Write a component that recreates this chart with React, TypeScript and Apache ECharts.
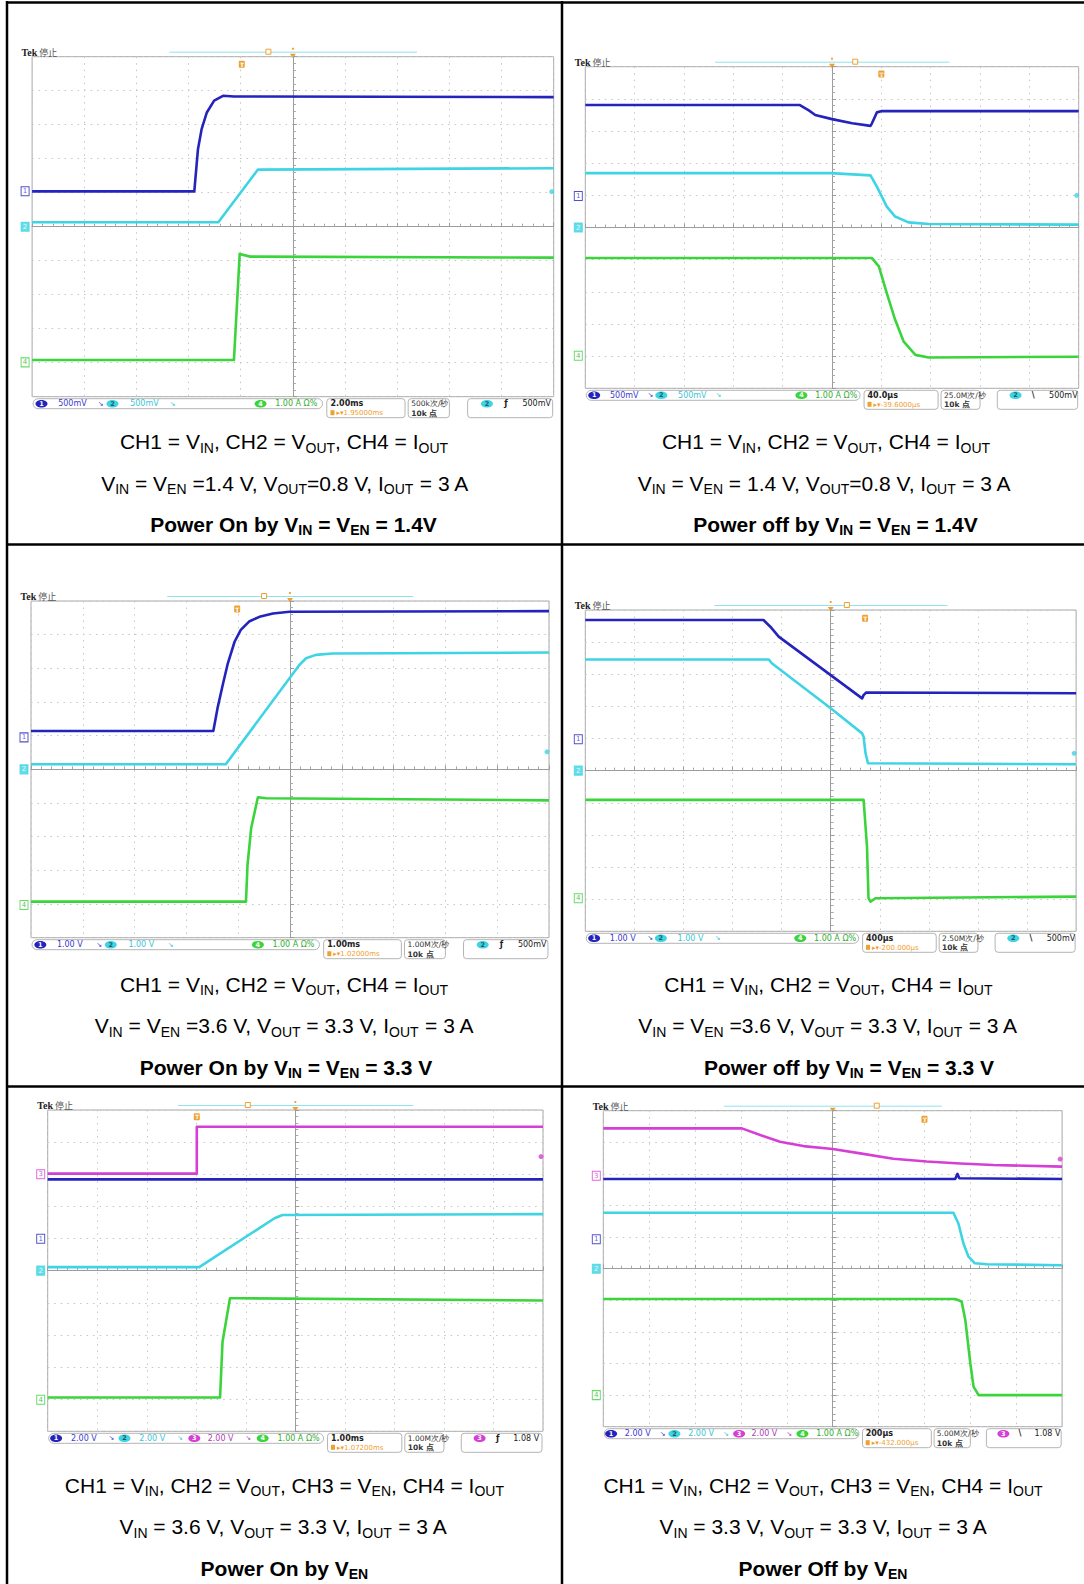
import React, { useEffect, useRef } from "react";
import * as echarts from "echarts";

// ---------- colours ----------
const CH_COLORS: Record<number, string> = { 1: "#2424bd", 2: "#3fd4e4", 3: "#d63fd6", 4: "#3cd43c" };
const CH_TEXT: Record<number, string> = { 1: "#3a3ad2", 2: "#3cc4d6", 3: "#b03cb8", 4: "#2fae2f" };
const ORANGE = "#f0a030";

// ---------- traces (graticule divisions: x -5..5, y -5..5) ----------
// Panel 1: Power On by VIN = VEN = 1.4V
const p1Ch1 = [[-5, 1.04], [-1.89, 1.04], [-1.87, 1.4], [-1.82, 2.28], [-1.75, 2.87], [-1.65, 3.36], [-1.51, 3.71], [-1.34, 3.85], [-1.13, 3.83], [5, 3.81]];
const p1Ch2 = [[-5, 0.13], [-1.43, 0.13], [-0.67, 1.68], [5, 1.72]];
const p1Ch4 = [[-5, -3.92], [-1.13, -3.92], [-1.02, -0.8], [-0.82, -0.88], [5, -0.91]];
// Panel 2: Power off by VIN = VEN = 1.4V
const p2Ch1 = [[-5, 3.81], [-0.66, 3.81], [-0.47, 3.64], [-0.34, 3.5], [0, 3.37], [0.41, 3.24], [0.78, 3.16], [0.81, 3.24], [0.91, 3.58], [1.01, 3.62], [5, 3.62]];
const p2Ch2 = [[-5, 1.69], [-0.03, 1.69], [0.78, 1.62], [0.91, 1.27], [1.11, 0.65], [1.28, 0.34], [1.55, 0.16], [1.96, 0.11], [5, 0.09]];
const p2Ch4 = [[-5, -0.95], [0.81, -0.95], [0.95, -1.21], [1.11, -2.04], [1.28, -2.87], [1.45, -3.54], [1.69, -3.96], [1.96, -4.04], [5, -4.02]];
// Panel 3: Power On by VIN = VEN = 3.3 V
const p3Ch1 = [[-5, 1.14], [-1.48, 1.14], [-1.4, 1.81], [-1.3, 2.5], [-1.2, 3.15], [-1.07, 3.79], [-0.95, 4.14], [-0.79, 4.39], [-0.59, 4.53], [-0.33, 4.63], [-0.01, 4.68], [5, 4.7]];
const p3Ch2 = [[-5, 0.15], [-1.24, 0.15], [0.18, 3.1], [0.31, 3.3], [0.5, 3.4], [0.82, 3.44], [5, 3.47]];
const p3Ch4 = [[-5, -3.93], [-0.85, -3.93], [-0.82, -2.84], [-0.75, -1.75], [-0.62, -0.83], [-0.46, -0.86], [5, -0.92]];
// Panel 4: Power off by VIN = VEN = 3.3 V
const p4Ch1 = [[-5, 4.69], [-1.37, 4.69], [-1.23, 4.48], [-1.06, 4.17], [0.64, 2.25], [0.67, 2.35], [0.72, 2.43], [5, 2.41]];
const p4Ch2 = [[-5, 3.46], [-1.26, 3.46], [-1.2, 3.34], [0, 1.94], [0.64, 1.16], [0.67, 1.06], [0.71, 0.54], [0.76, 0.23], [5, 0.2]];
const p4Ch4 = [[-5, -0.91], [0.67, -0.91], [0.74, -2.37], [0.77, -3.97], [0.81, -4.08], [0.91, -3.97], [5, -3.92]];
// Panel 5: Power On by VEN
const p5Ch3 = [[-5, 3.02], [-1.99, 3.02], [-1.99, 4.48], [5, 4.48]];
const p5Ch1 = [[-5, 2.84], [5, 2.84]];
const p5Ch2 = [[-5, 0.11], [-1.94, 0.11], [-1.77, 0.28], [-0.42, 1.63], [-0.26, 1.73], [5, 1.76]];
const p5Ch4 = [[-5, -3.95], [-1.52, -3.95], [-1.47, -2.21], [-1.32, -0.86], [-1.13, -0.86], [5, -0.93]];
// Panel 6: Power Off by VEN
const p6Ch3 = [[-5, 4.44], [-1.98, 4.44], [-1.58, 4.23], [-1.15, 4.02], [-0.64, 3.88], [0, 3.79], [0.6, 3.65], [1.32, 3.48], [2.05, 3.39], [2.78, 3.33], [3.5, 3.28], [5, 3.23]];
const p6Ch1 = [[-5, 2.84], [2.67, 2.84], [2.72, 3.0], [2.76, 2.86], [5, 2.84]];
const p6Ch2 = [[-5, 1.77], [2.63, 1.77], [2.74, 1.43], [2.85, 0.8], [2.96, 0.38], [3.1, 0.17], [3.36, 0.14], [5, 0.11]];
const p6Ch4 = [[-5, -0.96], [2.67, -0.96], [2.81, -1.04], [2.89, -1.62], [3.0, -3.0], [3.07, -3.73], [3.18, -4.0], [5, -4.0]];

// channel ground markers [channel, level] and trigger level [channel, level]
const p1Markers = [[1, 1.04], [2, 0], [4, -3.99]];
const p2Markers = [[1, 0.98], [2, 0], [4, -3.99]];
const p3Markers = [[1, 0.95], [2, 0], [4, -4.03]];
const p4Markers = [[1, 0.98], [2, 0], [4, -3.97]];
const p5Markers = [[3, 3.0], [1, 0.99], [2, 0], [4, -4.02]];
const p6Markers = [[3, 2.94], [1, 0.93], [2, 0], [4, -4.0]];
const p1Trig = [2, 1.03];
const p2Trig = [2, 1.0];
const p3Trig = [2, 0.52];
const p4Trig = [2, 0.54];
const p5Trig = [3, 3.55];
const p6Trig = [3, 3.47];

// status bar readouts
const p1Scales = [[1, "500mV"], [2, "500mV"], [4, "1.00 A Ω%"]];
const p2Scales = [[1, "500mV"], [2, "500mV"], [4, "1.00 A Ω%"]];
const p3Scales = [[1, "1.00 V"], [2, "1.00 V"], [4, "1.00 A Ω%"]];
const p4Scales = [[1, "1.00 V"], [2, "1.00 V"], [4, "1.00 A Ω%"]];
const p5Scales = [[1, "2.00 V"], [2, "2.00 V"], [3, "2.00 V"], [4, "1.00 A Ω%"]];
const p6Scales = [[1, "2.00 V"], [2, "2.00 V"], [3, "2.00 V"], [4, "1.00 A Ω%"]];
const p1Time = ["2.00ms", "1.95000ms"];
const p2Time = ["40.0μs", "-39.6000μs"];
const p3Time = ["1.00ms", "1.02000ms"];
const p4Time = ["400μs", "-200.000μs"];
const p5Time = ["1.00ms", "1.07200ms"];
const p6Time = ["200μs", "-432.000μs"];
const p1Rate = ["500k次/秒", "10k 点"];
const p2Rate = ["25.0M次/秒", "10k 点"];
const p3Rate = ["1.00M次/秒", "10k 点"];
const p4Rate = ["2.50M次/秒", "10k 点"];
const p5Rate = ["1.00M次/秒", "10k 点"];
const p6Rate = ["5.00M次/秒", "10k 点"];
const p1Trigger = [2, "ƒ", "500mV"];
const p2Trigger = [2, "\\", "500mV"];
const p3Trigger = [2, "ƒ", "500mV"];
const p4Trigger = [2, "\\", "500mV"];
const p5Trigger = [3, "ƒ", "1.08 V"];
const p6Trigger = [3, "\\", "1.08 V"];

// captions ([..] = subscript)
const cap1 = ["CH1 = V[IN], CH2 = V[OUT], CH4 = I[OUT]", "V[IN] = V[EN] =1.4 V, V[OUT]=0.8 V, I[OUT] = 3 A", "Power On by V[IN] = V[EN] = 1.4V"];
const cap2 = ["CH1 = V[IN], CH2 = V[OUT], CH4 = I[OUT]", "V[IN] = V[EN] = 1.4 V, V[OUT]=0.8 V, I[OUT] = 3 A", "Power off by V[IN] = V[EN] = 1.4V"];
const cap3 = ["CH1 = V[IN], CH2 = V[OUT], CH4 = I[OUT]", "V[IN] = V[EN] =3.6 V, V[OUT] = 3.3 V, I[OUT] = 3 A", "Power On by V[IN] = V[EN] = 3.3 V"];
const cap4 = ["CH1 = V[IN], CH2 = V[OUT], CH4 = I[OUT]", "V[IN] = V[EN] =3.6 V, V[OUT] = 3.3 V, I[OUT] = 3 A", "Power off by V[IN] = V[EN] = 3.3 V"];
const cap5 = ["CH1 = V[IN], CH2 = V[OUT], CH3 = V[EN], CH4 = I[OUT]", "V[IN] = 3.6 V, V[OUT] = 3.3 V, I[OUT] = 3 A", "Power On by V[EN]"];
const cap6 = ["CH1 = V[IN], CH2 = V[OUT], CH3 = V[EN], CH4 = I[OUT]", "V[IN] = 3.3 V, V[OUT] = 3.3 V, I[OUT] = 3 A", "Power Off by V[EN]"];

// ---------- layout (pixels) ----------
const LAYOUT = [
  { L: 32.1, T: 56.7, W: 521.6, H: 340, box: 0.453, u: 0.402, uy: 7.6, capX: [284, 285, 293.5], capY: [441.5, 483, 524.3] },
  { L: 585.3, T: 66.7, W: 493.4, H: 321.6, box: 0.547, u: 0.6, uy: 7.3, capX: [826, 824.4, 835.5], capY: [441.5, 483, 524.3] },
  { L: 31, T: 601, W: 518, H: 336.7, box: 0.45, u: 0.398, uy: 8, capX: [284, 284.4, 286], capY: [984, 1025.5, 1067] },
  { L: 585.3, T: 610, W: 490.8, H: 321.3, box: 0.533, u: 0.57, uy: 8.3, capX: [828.4, 828, 849], capY: [984, 1025.5, 1067] },
  { L: 47.7, T: 1110, W: 495.3, H: 321.3, box: 0.404, u: 0.301, uy: 6.7, capX: [284.4, 283.4, 284.4], capY: [1485, 1526.6, 1568] },
  { L: 603.3, T: 1110.7, W: 458.8, H: 316, box: 0.596, u: 0.7, uy: 8.6, capX: [823, 823.4, 823], capY: [1485, 1526.6, 1568] },
];

const PANELS = [
  { traces: [[1, p1Ch1], [2, p1Ch2], [4, p1Ch4]], markers: p1Markers, trig: p1Trig, scales: p1Scales, time: p1Time, rate: p1Rate, trigger: p1Trigger, caption: cap1 },
  { traces: [[1, p2Ch1], [2, p2Ch2], [4, p2Ch4]], markers: p2Markers, trig: p2Trig, scales: p2Scales, time: p2Time, rate: p2Rate, trigger: p2Trigger, caption: cap2 },
  { traces: [[1, p3Ch1], [2, p3Ch2], [4, p3Ch4]], markers: p3Markers, trig: p3Trig, scales: p3Scales, time: p3Time, rate: p3Rate, trigger: p3Trigger, caption: cap3 },
  { traces: [[1, p4Ch1], [2, p4Ch2], [4, p4Ch4]], markers: p4Markers, trig: p4Trig, scales: p4Scales, time: p4Time, rate: p4Rate, trigger: p4Trigger, caption: cap4 },
  { traces: [[3, p5Ch3], [1, p5Ch1], [2, p5Ch2], [4, p5Ch4]], markers: p5Markers, trig: p5Trig, scales: p5Scales, time: p5Time, rate: p5Rate, trigger: p5Trigger, caption: cap5 },
  { traces: [[3, p6Ch3], [1, p6Ch1], [2, p6Ch2], [4, p6Ch4]], markers: p6Markers, trig: p6Trig, scales: p6Scales, time: p6Time, rate: p6Rate, trigger: p6Trigger, caption: cap6 },
];

const SANS = "Liberation Sans, Arial, sans-serif";
const SMALL = "DejaVu Sans, sans-serif";

function capText(s: string) {
  const parts = s.split(/\[([^\]]+)\]/);
  return parts.map((p, i) => (p ? (i % 2 ? `{s|${p}}` : `{n|${p}}`) : "")).join("");
}

function captionRich(bold: boolean) {
  const w = bold ? "bold" : "normal";
  return {
    n: { fontSize: 21, fontFamily: SANS, fontWeight: w, fill: "#000", lineHeight: 26 },
    s: { fontSize: 14, fontFamily: SANS, fontWeight: w, fill: "#000", lineHeight: 14, verticalAlign: "bottom" },
  };
}

function txt(x: number, y: number, text: string, fill: string, size: number, extra: any = {}) {
  return {
    type: "text", x, y, silent: true,
    style: { text, fill, fontSize: size, fontFamily: SMALL, align: "left", verticalAlign: "middle", ...extra },
  };
}

function panelGraphics(lay: any, p: any) {
  const { L, T, W, H } = lay;
  const B = T + H;
  const g: any[] = [];
  // header
  g.push({
    type: "text", x: L - 10.5, y: T + 0.5, silent: true,
    style: {
      text: "{a|Tek}{b| 停止}", align: "left", verticalAlign: "bottom",
      rich: {
        a: { fontFamily: "Liberation Serif, serif", fontWeight: "bold", fontSize: 10, fill: "#222" },
        b: { fontFamily: "Noto Sans CJK SC", fontSize: 9, fill: "#555" },
      },
    },
  });
  g.push({ type: "line", silent: true, shape: { x1: L + 0.263 * W, y1: T - 4.5, x2: L + 0.738 * W, y2: T - 4.5 }, style: { stroke: "#8fe3ee", lineWidth: 1 } });
  g.push({ type: "rect", silent: true, shape: { x: L + lay.box * W - 2.5, y: T - 7.5, width: 5, height: 5 }, style: { fill: "#fff", stroke: ORANGE, lineWidth: 1 } });
  g.push({ type: "polygon", silent: true, shape: { points: [[L + W / 2 - 3, T - 3], [L + W / 2 + 3, T - 3], [L + W / 2, T + 1.5]] }, style: { fill: ORANGE } });
  g.push({ type: "circle", silent: true, shape: { cx: L + W / 2, cy: T - 8, r: 1.1 }, style: { fill: ORANGE } });
  g.push({ type: "rect", silent: true, shape: { x: L + lay.u * W - 3, y: T + lay.uy - 3.5, width: 6, height: 7, r: 1 }, style: { fill: ORANGE } });
  g.push(txt(L + lay.u * W - 1.8, T + lay.uy, "T", "#fff", 6, { fontWeight: "bold" }));

  // status bar
  const n = p.scales.length;
  const ef = n === 3 ? [0.018, 0.154, 0.438] : [0.017, 0.155, 0.296, 0.434];
  const tf = n === 3 ? [0.05, 0.188, 0.466] : [0.047, 0.185, 0.323, 0.464];
  const by = B + 7;
  g.push({ type: "rect", silent: true, shape: { x: L + 1, y: B + 2, width: 0.555 * W, height: 10, r: 5 }, style: { fill: "#fff", stroke: "#b4b4b4", lineWidth: 1 } });
  p.scales.forEach((s: any, i: number) => {
    const ch = s[0];
    g.push({ type: "ellipse", silent: true, shape: { cx: L + ef[i] * W, cy: by, rx: 6, ry: 3.8 }, style: { fill: CH_COLORS[ch] } });
    g.push(txt(L + ef[i] * W, by, String(ch), ch === 2 ? "#1d5f66" : "#fff", 6.5, { align: "center", fontWeight: "bold" }));
    g.push(txt(L + tf[i] * W, by, s[1], CH_TEXT[ch], 8));
    if (i < n - 1) g.push(txt(L + (tf[i] + 0.076) * W, by, "↘", CH_TEXT[ch], 7));
  });
  // time box
  g.push({ type: "rect", silent: true, shape: { x: L + 0.565 * W, y: B + 2, width: 0.15 * W, height: 19, r: 3 }, style: { fill: "none", stroke: "#b4b4b4", lineWidth: 1 } });
  g.push(txt(L + 0.572 * W, by, p.time[0], "#222", 8, { fontWeight: "bold" }));
  g.push({ type: "rect", silent: true, shape: { x: L + 0.572 * W, y: B + 13.5, width: 4, height: 5 }, style: { fill: ORANGE } });
  g.push(txt(L + 0.572 * W + 6, B + 16.3, "▸▾" + p.time[1], ORANGE, 7));
  // rate box
  g.push({ type: "rect", silent: true, shape: { x: L + 0.721 * W, y: B + 2, width: 0.079 * W, height: 19, r: 3 }, style: { fill: "none", stroke: "#b4b4b4", lineWidth: 1 } });
  g.push(txt(L + 0.727 * W, by, p.rate[0], "#333", 7.5));
  g.push(txt(L + 0.727 * W, B + 16.3, p.rate[1], "#333", 7.5, { fontWeight: "bold" }));
  // trigger box
  const tch = p.trigger[0];
  g.push({ type: "rect", silent: true, shape: { x: L + 0.835 * W, y: B + 2, width: 0.163 * W, height: 19, r: 3 }, style: { fill: "none", stroke: "#b4b4b4", lineWidth: 1 } });
  g.push({ type: "ellipse", silent: true, shape: { cx: L + 0.872 * W, cy: by, rx: 6, ry: 3.8 }, style: { fill: CH_COLORS[tch] } });
  g.push(txt(L + 0.872 * W, by, String(tch), tch === 2 ? "#1d5f66" : "#fff", 6.5, { align: "center", fontWeight: "bold" }));
  g.push(txt(L + 0.905 * W, by, p.trigger[1], "#222", 8, { fontWeight: "bold" }));
  g.push(txt(L + 0.94 * W, by, p.trigger[2], "#222", 8));

  // captions
  p.caption.forEach((c: string, i: number) => {
    g.push({
      type: "text", x: lay.capX[i], y: lay.capY[i], silent: true,
      style: { text: capText(c), align: "center", verticalAlign: "middle", fill: "#000", rich: captionRich(i === 2) },
    });
  });
  return g;
}

function buildOption() {
  const grid: any[] = [];
  const xAxis: any[] = [];
  const yAxis: any[] = [];
  const series: any[] = [];
  let graphic: any[] = [];
  const axisCommon = {
    type: "value", min: -5, max: 5, interval: 1,
    axisLabel: { show: false },
    axisLine: { show: true, onZero: true, lineStyle: { color: "#9c9c9c", width: 1 } },
    axisTick: { show: true, inside: true, length: 4, lineStyle: { color: "#9c9c9c" } },
    minorTick: { show: true, splitNumber: 5, length: 3, lineStyle: { color: "#a8a8a8" } },
    splitLine: { show: true, lineStyle: { color: "#c6c6c6", width: 1, type: [1.5, 5] } },
  };
  PANELS.forEach((p, i) => {
    const lay = LAYOUT[i];
    grid.push({ left: lay.L, top: lay.T, width: lay.W, height: lay.H, show: true, borderColor: "#a8a8a8", borderWidth: 1, backgroundColor: "#fff" });
    xAxis.push({ ...axisCommon, gridIndex: i });
    yAxis.push({ ...axisCommon, gridIndex: i });
    p.traces.forEach((t: any) => {
      const ch = t[0];
      series.push({
        type: "line", xAxisIndex: i, yAxisIndex: i, data: t[1], showSymbol: false, silent: true,
        lineStyle: { color: CH_COLORS[ch], width: 2.6, join: "round" }, itemStyle: { color: CH_COLORS[ch] }, z: 3,
      });
    });
    series.push({
      type: "scatter", xAxisIndex: i, yAxisIndex: i, clip: false, silent: true, z: 4,
      symbol: "rect", symbolSize: [8, 9], symbolOffset: [-7, 0],
      data: p.markers.map((m: any) => ({
        value: [-5, m[1]], name: String(m[0]),
        itemStyle: { color: m[0] === 2 ? CH_COLORS[2] : "#fff", borderColor: CH_COLORS[m[0]], borderWidth: 1 },
        label: { show: true, position: "inside", formatter: "{b}", fontSize: 7, fontFamily: SMALL, color: m[0] === 2 ? "#fff" : CH_TEXT[m[0]] },
      })),
    });
    series.push({
      type: "scatter", xAxisIndex: i, yAxisIndex: i, clip: false, silent: true, z: 4,
      symbol: "circle", symbolSize: 5, symbolOffset: [-2, 0],
      data: [{ value: [5, p.trig[1]], itemStyle: { color: CH_COLORS[p.trig[0] as number] } }],
    });
    graphic = graphic.concat(panelGraphics(lay, p));
  });
  // table borders
  const bl = (x1: number, y1: number, x2: number, y2: number) => ({ type: "line", silent: true, shape: { x1, y1, x2, y2 }, style: { stroke: "#000", lineWidth: 2.5 } });
  graphic.push(bl(6, 2.5, 1084, 2.5));
  graphic.push(bl(7, 1, 7, 1584));
  graphic.push(bl(562, 1, 562, 1584));
  graphic.push(bl(6, 544.5, 1084, 544.5));
  graphic.push(bl(6, 1086.5, 1084, 1086.5));
  return { animation: false, backgroundColor: "#fff", grid, xAxis, yAxis, series, graphic };
}

export default function App() {
  const ref = useRef<HTMLDivElement>(null);
  useEffect(() => {
    if (!ref.current) return;
    const chart = echarts.init(ref.current, undefined, { renderer: "svg" });
    chart.setOption(buildOption() as any);
    return () => chart.dispose();
  }, []);
  return <div ref={ref} style={{ position: "absolute", left: 0, top: 0, width: 1084, height: 1584 }} />;
}
